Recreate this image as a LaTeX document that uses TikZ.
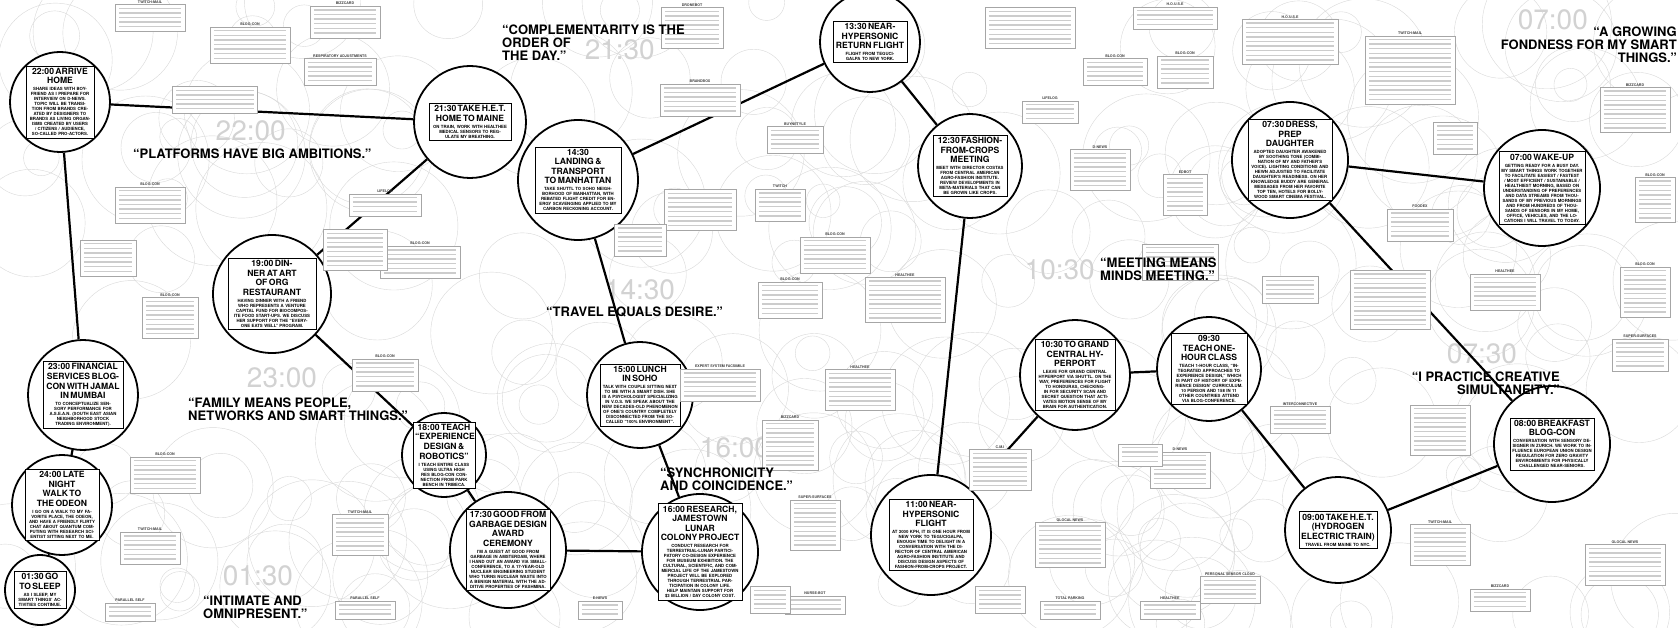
\documentclass[tikz,border=0pt]{standalone}
\usepackage{fontspec}
\setmainfont{TeX Gyre Heros}
\usetikzlibrary{positioning}

\newcommand{\ttl}[1]{{\fontsize{8.6}{9.6}\selectfont #1\par}\vspace{2pt}}
\newcommand{\memo}[6]{%
  \node[memo, minimum width=#4pt, minimum height=#5*4.6pt+4pt] (#1) at (#2,#3) {};
  \node[tag, above=0.8pt of #1] {#6};
  \foreach \k in {1,...,#5}
    \draw[gray!40, line width=1.4pt] ([xshift=4pt,yshift=-\k*4.6pt+0.6pt]#1.north west) -- ([xshift=-4pt,yshift=-\k*4.6pt+0.6pt]#1.north east);
}

\tikzset{
  evt/.style={circle, draw=black, line width=1.8pt, fill=white, minimum size=#1, inner sep=0pt},
  evtbox/.style={draw=black, line width=0.7pt, fill=white, align=center, inner sep=2pt,
    font=\bfseries\fontsize{4.3}{5}\selectfont},
  link/.style={line width=2.2pt, black},
  memo/.style={draw=gray!70, line width=0.5pt, fill=white, inner sep=0pt},
  tag/.style={font=\bfseries\fontsize{3.6}{4}\selectfont, text=black!75, inner sep=0pt},
  quote/.style={font=\bfseries\fontsize{13}{13}\selectfont, align=left, inner sep=0pt},
  clock/.style={font=\fontsize{28}{28}\selectfont, text=gray!35, inner sep=0pt},
  ring/.style={draw=gray!30, line width=0.4pt},
}

\begin{document}
\begin{tikzpicture}[x=1pt,y=-1pt]
  \useasboundingbox[fill=white] (0,0) rectangle (1678,628);

  % faint rings in the background
  \pgfmathsetseed{4711}
  \foreach \i in {1,...,230} {
    \pgfmathsetmacro\cx{rnd*1678}
    \pgfmathsetmacro\cy{rnd*628}
    \pgfmathsetmacro\cr{16+rnd*50}
    \draw[ring] (\cx,\cy) circle[radius=\cr];
  }

  % clock faces
  \node[clock, anchor=east] (c2130) at (655,50) {21:30};
  \node[clock, anchor=east] (c2200) at (286,131) {22:00};
  \node[clock, anchor=east] (c0700) at (1588,20) {07:00};
  \node[clock, anchor=east] (c1030) at (1095,270) {10:30};
  \node[clock] (c1430) at (640,290) {14:30};
  \node[clock] (c0730) at (1482,354) {07:30};
  \node[clock] (c2300) at (282,378) {23:00};
  \node[clock] (c1600) at (735,448) {16:00};
  \node[clock] (c0130) at (258,576) {01:30};

  % the day, circle by circle
  \node[evt=100pt] (e2200) at (60,102) {};
  \node[evtbox, text width=64pt] at (e2200) {\ttl{22:00 ARRIVE\\HOME}SHARE IDEAS WITH BOY-FRIEND AS I PREPARE FOR INTERVIEW ON D-NEWS. TOPIC WILL BE TRANSITION FROM BRANDS CREATED BY DESIGNERS TO BRANDS AS LIVING ORGANISMS CREATED BY USERS / CITIZENS / AUDIENCE, SO-CALLED PRO-ACTORS.};
  \node[evt=112pt] (e2130) at (470,122) {};
  \node[evtbox, text width=78pt] at (e2130) {\ttl{21:30 TAKE H.E.T.\\HOME TO MAINE}ON TRAIN, WORK WITH HEALTHEE MEDICAL SENSORS TO REGULATE MY BREATHING.};
  \node[evt=120pt] (e1430) at (578,180) {};
  \node[evtbox, text width=82pt] at (e1430) {\ttl{14:30\\LANDING \& TRANSPORT\\TO MANHATTAN}TAKE SHUTTL TO SOHO NEIGHBORHOOD OF MANHATTAN, WITH REBATED FLIGHT CREDIT FOR ENERGY SCAVENGING APPLIED TO MY CARBON RECKONING ACCOUNT.};
  \node[evt=100pt] (e1330) at (870,42) {};
  \node[evtbox, text width=70pt] at (e1330) {\ttl{13:30 NEAR-\\HYPERSONIC\\RETURN FLIGHT}FLIGHT FROM TEGUCIGALPA TO NEW YORK.};
  \node[evt=104pt] (e1230) at (970,166) {};
  \node[evtbox, text width=70pt] at (e1230) {\ttl{12:30 FASHION-\\FROM-CROPS\\MEETING}MEET WITH DIRECTOR COSTAS FROM CENTRAL AMERICAN AGRO-FASHION INSTITUTE. REVIEW DEVELOPMENTS IN META-MATERIALS THAT CAN BE GROWN LIKE CROPS.};
  \node[evt=116pt] (e0730) at (1290,160) {};
  \node[evtbox, text width=80pt] at (e0730) {\ttl{07:30 DRESS, PREP\\DAUGHTER}ADOPTED DAUGHTER AWAKENED BY SOOTHING TONE (COMBINATION OF MY AND FATHER'S VOICE). LIGHTING CONDITIONS AND HEWN ADJUSTED TO FACILITATE DAUGHTER'S READINESS. ON HER KNOWLEDGE BUDDY ARE GENERAL MESSAGES FROM HER FAVORITE TOP TEN, HOTELS FOR BOLLYWOOD SMART CINEMA FESTIVAL.};
  \node[evt=116pt] (e0700) at (1542,188) {};
  \node[evtbox, text width=82pt] at (e0700) {\ttl{07:00 WAKE-UP}GETTING READY FOR A BUSY DAY. MY SMART THINGS WORK TOGETHER TO FACILITATE EASIEST / FASTEST / MOST EFFICIENT / SUSTAINABLE / HEALTHIEST MORNING, BASED ON UNDERSTANDING OF PREFERENCES AND DATA STREAMS FROM THOUSANDS OF MY PREVIOUS MORNINGS AND FROM HUNDREDS OF THOUSANDS OF SENSORS IN MY HOME, OFFICE, VEHICLES, AND THE LOCATIONS I WILL TRAVEL TO TODAY.};
  \node[evt=116pt] (e0800) at (1552,444) {};
  \node[evtbox, text width=80pt] at (e0800) {\ttl{08:00 BREAKFAST\\BLOG-CON}CONVERSATION WITH SENSORY DESIGNER IN ZURICH. WE WORK TO INFLUENCE EUROPEAN UNION DESIGN REGULATION FOR ZERO GRAVITY ENVIRONMENTS FOR PHYSICALLY CHALLENGED NEAR-SENIORS.};
  \node[evt=106pt] (e0900) at (1338,530) {};
  \node[evtbox, text width=74pt] at (e0900) {\ttl{09:00 TAKE H.E.T.\\(HYDROGEN\\ELECTRIC TRAIN)}TRAVEL FROM MAINE TO NYC.};
  \node[evt=104pt] (e0930) at (1209,369) {};
  \node[evtbox, text width=72pt] at (e0930) {\ttl{09:30 TEACH ONE-\\HOUR CLASS}TEACH 1-HOUR CLASS, ``INTEGRATED APPROACHES TO EXPERIENCE DESIGN,'' WHICH IS PART OF HISTORY OF EXPERIENCE DESIGN' CURRICULUM. 10 PERSON AND 158 IN 11 OTHER COUNTRIES ATTEND VIA BLOG-CONFERENCE.};
  \node[evt=110pt] (e1030) at (1075,375) {};
  \node[evtbox, text width=76pt] at (e1030) {\ttl{10:30 TO GRAND\\CENTRAL HYPERPORT}LEAVE FOR GRAND CENTRAL HYPERPORT VIA SHUTTL. ON THE WAY, PREFERENCES FOR FLIGHT TO HONDURAS, CHECKING-IN FOR SECURITY SCAN AND SECRET QUESTION THAT ACTIVATES MOTION SENSE OF MY BRAIN FOR AUTHENTICATION.};
  \node[evt=120pt] (e1100) at (931,535) {};
  \node[evtbox, text width=80pt] at (e1100) {\ttl{11:00 NEAR-\\HYPERSONIC FLIGHT}AT 3000 KPH, IT IS ONE HOUR FROM NEW YORK TO TEGUCIGALPA, ENOUGH TIME TO DELIGHT IN A CONVERSATION WITH THE DIRECTOR OF CENTRAL AMERICAN AGRO-FASHION INSTITUTE AND DISCUSS DESIGN ASPECTS OF FASHION-FROM-CROPS PROJECT.};
  \node[evt=106pt] (e1500) at (640,395) {};
  \node[evtbox, text width=76pt] at (e1500) {\ttl{15:00 LUNCH IN SOHO}TALK WITH COUPLE SITTING NEXT TO ME WITH A SMART DISH. SHE IS A PSYCHOLOGIST SPECIALIZING IN V.O.S. WE SPEAK ABOUT THE NEW DECADES-OLD PHENOMENON OF ONE'S COUNTRY COMPLETELY DISCONNECTED FROM THE SO-CALLED ``100\% ENVIRONMENT''.};
  \node[evt=116pt] (e1600) at (700,552) {};
  \node[evtbox, text width=80pt] at (e1600) {\ttl{16:00 RESEARCH,\\JAMESTOWN LUNAR\\COLONY PROJECT}CONDUCT RESEARCH FOR TERRESTRIAL-LUNAR PARTICIPATORY CO-DESIGN EXPERIENCE FOR MUSEUM EXHIBITION. THE CULTURAL, SCIENTIFIC, AND COMMERCIAL LIFE OF THE JAMESTOWN PROJECT WILL BE EXPLORED THROUGH TERRESTRIAL PARTICIPATION IN COLONY LIFE. HELP MAINTAIN SUPPORT FOR \$3 BILLION / DAY COLONY COST.};
  \node[evt=116pt] (e1730) at (508,550) {};
  \node[evtbox, text width=80pt] at (e1730) {\ttl{17:30 GOOD FROM\\GARBAGE DESIGN\\AWARD CEREMONY}I'M A GUEST AT GOOD FROM GARBAGE IN AMSTERDAM, WHERE I HAND OUT AN AWARD VIA SMALL-CONFERENCE, TO A 17-YEAR-OLD NUCLEAR ENGINEERING STUDENT WHO TURNS NUCLEAR WASTE INTO A BENIGN MATERIAL WITH THE ADDITIVE PROPERTIES OF PASHMINA.};
  \node[evt=84pt] (e1800) at (444,455) {};
  \node[evtbox, text width=58pt] at (e1800) {\ttl{18:00 TEACH\\``EXPERIENCE\\DESIGN \&\\ROBOTICS''}I TEACH ENTIRE CLASS USING ULTRA HIGH RES BLOG-CON CONNECTION FROM PARK BENCH IN TRIBECA.};
  \node[evt=118pt] (e1900) at (272,294) {};
  \node[evtbox, text width=84pt] at (e1900) {\ttl{19:00 DINNER AT ART\\OF ORG RESTAURANT}HAVING DINNER WITH A FRIEND WHO REPRESENTS A VENTURE CAPITAL FUND FOR BIOCOMPOSITE FOOD START-UPS. WE DISCUSS HER SUPPORT FOR THE ``EVERYONE EATS WELL'' PROGRAM.};
  \node[evt=110pt] (e2300) at (83,395) {};
  \node[evtbox, text width=76pt] at (e2300) {\ttl{23:00 FINANCIAL\\SERVICES BLOG-\\CON WITH JAMAL\\IN MUMBAI}TO CONCEPTUALIZE SENSORY PERFORMANCE FOR A.S.E.A.N. (SOUTH EAST ASIAN NEIGHBORHOOD STOCK TRADING ENVIRONMENT).};
  \node[evt=100pt] (e2400) at (62,505) {};
  \node[evtbox, text width=70pt] at (e2400) {\ttl{24:00 LATE NIGHT\\WALK TO THE ODEON}I GO ON A WALK TO MY FAVORITE PLACE, THE ODEON, AND HAVE A FRIENDLY FLIRTY CHAT ABOUT QUANTUM COMPUTING WITH RESEARCH SCIENTIST SITTING NEXT TO ME.};
  \node[evt=70pt] (e0130) at (40,590) {};
  \node[evtbox, text width=48pt] at (e0130) {\ttl{01:30 GO\\TO SLEEP}AS I SLEEP, MY SMART THINGS' ACTIVITIES CONTINUE.};

  % the thread through the day
  \draw[link] (e0700) -- (e0730);
  \draw[link] (e0730) -- (e0800);
  \draw[link] (e0800) -- (e0900);
  \draw[link] (e0900) -- (e0930);
  \draw[link] (e0930) -- (e1030);
  \draw[link] (e1030) -- (e1100);
  \draw[link] (e1100) -- (e1230);
  \draw[link] (e1230) -- (e1330);
  \draw[link] (e1330) -- (e1430);
  \draw[link] (e1430) -- (e1500);
  \draw[link] (e1500) -- (e1600);
  \draw[link] (e1600) -- (e1730);
  \draw[link] (e1730) -- (e1800);
  \draw[link] (e1800) -- (e1900);
  \draw[link] (e1900) -- (e2130);
  \draw[link] (e2130) -- (e2200);
  \draw[link] (e2200) -- (e2300);
  \draw[link] (e2300) -- (e2400);
  \draw[link] (e2400) -- (e0130);

  % small notes (text too small to read, shown as grey lines)
  \memo{m01}{150}{18}{70}{5}{TWITCH-MAIL}
  \memo{m02}{250}{45}{80}{7}{BLOG-CON}
  \memo{m03}{345}{22}{70}{6}{BIZZCARD}
  \memo{m04}{215}{100}{85}{5}{}
  \memo{m05}{340}{72}{72}{5}{RESPIRATORY ADJUSTMENTS}
  \memo{m06}{150}{205}{70}{7}{BLOG-CON}
  \memo{m07}{108}{258}{56}{7}{}
  \memo{m08}{385}{205}{72}{4}{LIFELOG}
  \memo{m09}{420}{262}{80}{6}{BLOG-CON}
  \memo{m10}{692}{28}{62}{8}{DRONEBOT}
  \memo{m11}{700}{100}{80}{6}{BRANDBOX}
  \memo{m12}{795}{140}{56}{5}{BUYNETYLE}
  \memo{m13}{780}{205}{50}{6}{TWITCH}
  \memo{m14}{700}{210}{72}{8}{}
  \memo{m15}{835}{255}{70}{7}{BLOG-CON}
  \memo{m16}{1030}{28}{90}{8}{}
  \memo{m17}{1115}{72}{64}{5}{BLOG-CON}
  \memo{m18}{1050}{112}{56}{4}{LIFELOG}
  \memo{m19}{1100}{170}{60}{8}{D-NEWS}
  \memo{m20}{1185}{72}{56}{6}{BLOG-CON}
  \memo{m21}{1175}{18}{84}{4}{H.O.U.S.E}
  \memo{m22}{1290}{42}{96}{9}{H.O.U.S.E}
  \memo{m23}{1410}{70}{90}{14}{TWITCH-MAIL}
  \memo{m24}{1455}{138}{44}{6}{}
  \memo{m25}{1635}{110}{70}{9}{BIZZCARD}
  \memo{m26}{1655}{200}{40}{9}{BLOG-CON}
  \memo{m27}{1420}{225}{66}{6}{FOODEX}
  \memo{m28}{1390}{300}{80}{12}{}
  \memo{m29}{1505}{292}{70}{7}{HEALTHEE}
  \memo{m30}{1645}{292}{50}{10}{BLOG-CON}
  \memo{m31}{1290}{290}{56}{5}{}
  \memo{m32}{1180}{262}{76}{7}{}
  \memo{m33}{1185}{195}{44}{8}{EDBOT}
  \memo{m34}{905}{300}{80}{9}{HEALTHEE}
  \memo{m35}{790}{300}{64}{7}{BLOG-CON}
  \memo{m36}{720}{385}{80}{6}{EXPERT SYSTEM FACSIMILE}
  \memo{m37}{790}{445}{56}{10}{BIZZCARD}
  \memo{m38}{1000}{470}{62}{8}{C.M.I}
  \memo{m39}{1070}{545}{70}{9}{GLOCAL NEWS}
  \memo{m40}{1180}{470}{60}{7}{D-NEWS}
  \memo{m41}{1230}{590}{60}{5}{PERSONAL SENSOR CLOUD}
  \memo{m42}{1440}{430}{60}{10}{}
  \memo{m43}{1640}{355}{56}{6}{SUPER-SURFACES}
  \memo{m44}{1440}{545}{60}{8}{TWITCH-MAIL}
  \memo{m45}{1625}{565}{80}{8}{GLOCAL NEWS}
  \memo{m46}{1500}{600}{60}{4}{BIZZCARD}
  \memo{m47}{170}{318}{56}{8}{BLOG-CON}
  \memo{m48}{165}{475}{70}{7}{BLOG-CON}
  \memo{m49}{150}{548}{60}{6}{TWITCH-MAIL}
  \memo{m50}{360}{535}{56}{8}{TWITCH-MAIL}
  \memo{m51}{385}{375}{66}{6}{BLOG-CON}
  \memo{m52}{355}{250}{64}{8}{}
  \memo{m53}{815}{525}{50}{10}{SUPER-SURFACES}
  \memo{m54}{815}{605}{60}{3}{NURSE-BOT}
  \memo{m55}{600}{610}{44}{3}{E-NEWS}
  \memo{m56}{1070}{610}{60}{3}{TOTAL PARKING}
  \memo{m57}{1170}{610}{60}{3}{HEALTHEE}
  \memo{m58}{1300}{420}{60}{5}{INTERCONNECTIVE}
  \memo{m59}{130}{612}{50}{3}{PARALLEL SELF}
  \memo{m60}{640}{240}{52}{6}{}
  \memo{m62}{860}{390}{70}{8}{HEALTHEE}
  \memo{m63}{1140}{455}{44}{4}{}
  \memo{m64}{365}{610}{60}{3}{PARALLEL SELF}
  \memo{m65}{770}{600}{40}{5}{}
  \memo{m66}{1000}{600}{50}{5}{}

  % quotes
  \node[quote, anchor=north west] (q2130) at (502,25) {``COMPLEMENTARITY IS THE\\ORDER OF\\THE DAY.''};
  \node[quote, anchor=west] (q2200) at (133,154) {``PLATFORMS HAVE BIG AMBITIONS.''};
  \node[quote, anchor=north east, align=right] (q0700) at (1677,27) {``A GROWING\\FONDNESS FOR MY SMART\\THINGS.''};
  \node[quote, anchor=north west] (q1030) at (1100,258) {``MEETING MEANS\\MINDS MEETING.''};
  \node[quote, anchor=west] (q1430) at (546,312) {``TRAVEL EQUALS DESIRE.''};
  \node[quote, anchor=north east, align=right] (q0730) at (1560,372) {``I PRACTICE CREATIVE\\SIMULTANEITY.''};
  \node[quote, anchor=north west] (q2300) at (188,398) {``FAMILY MEANS PEOPLE,\\NETWORKS AND SMART THINGS.''};
  \node[quote, anchor=north west] (q1600) at (660,468) {``SYNCHRONICITY\\AND COINCIDENCE.''};
  \node[quote, anchor=north west] (q0130) at (203,596) {``INTIMATE AND\\OMNIPRESENT.''};
\end{tikzpicture}
\end{document}
